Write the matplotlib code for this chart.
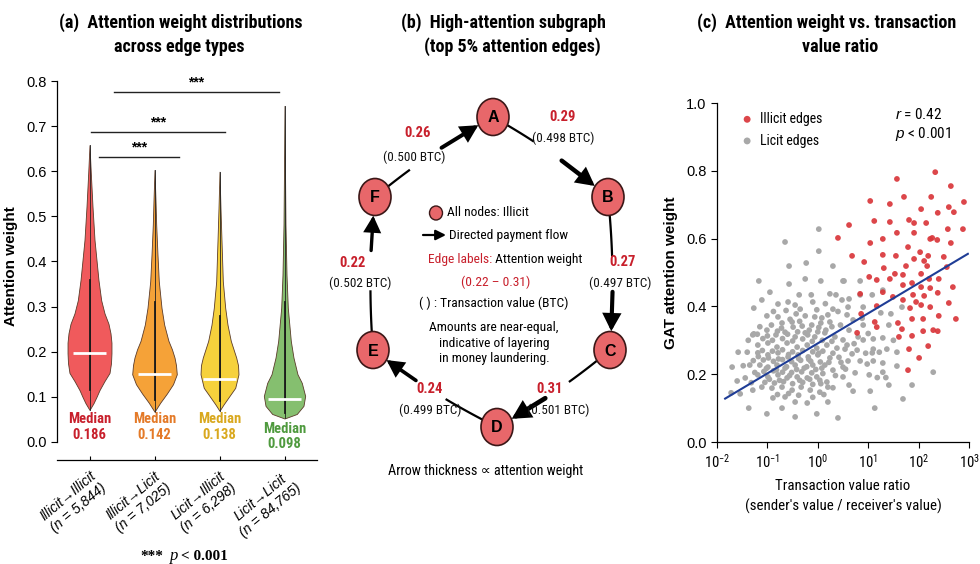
import numpy as np
import matplotlib
matplotlib.use("Agg")
import matplotlib.pyplot as plt
from matplotlib.patches import Ellipse, FancyArrowPatch
from matplotlib.ticker import NullLocator, LogLocator

NARROW = ["Roboto Condensed", "Lato", "DejaVu Sans"]
SANS = ["Liberation Sans", "DejaVu Sans"]
SERIF = ["Liberation Serif", "DejaVu Serif"]
plt.rcParams.update({"font.family": NARROW, "mathtext.fontset": "custom",
                     "mathtext.rm": "Liberation Sans", "mathtext.it": "Liberation Sans:italic",
                     "mathtext.bf": "Liberation Sans:bold", "axes.linewidth": 0.9})

# ---------------- panel (a) data ----------------
edge_types = ["Illicit→Illicit", "Illicit→Licit", "Licit→Illicit", "Licit→Licit"]
edge_counts = ["5,844", "7,025", "6,298", "84,765"]
median_labels = [0.186, 0.142, 0.138, 0.098]
median_lines = [0.198, 0.151, 0.139, 0.095]
box_lo = [0.115, 0.093, 0.090, 0.065]
box_hi = [0.360, 0.310, 0.280, 0.310]
# violin outlines: attention level and half-width (category units)
viol_y = [
    [0.071, 0.086, 0.100, 0.115, 0.135, 0.153, 0.175, 0.197, 0.220, 0.241, 0.262, 0.285, 0.314, 0.359, 0.410, 0.448, 0.522, 0.596, 0.658],
    [0.067, 0.087, 0.107, 0.128, 0.150, 0.170, 0.187, 0.205, 0.224, 0.260, 0.297, 0.356, 0.415, 0.482, 0.537, 0.603],
    [0.069, 0.083, 0.102, 0.120, 0.150, 0.170, 0.187, 0.224, 0.260, 0.297, 0.356, 0.445, 0.519, 0.599],
    [0.052, 0.062, 0.080, 0.102, 0.131, 0.150, 0.187, 0.224, 0.297, 0.370, 0.482, 0.600, 0.745],
]
viol_w = [
    [0, .062, .108, .154, .231, .308, .331, .338, .338, .323, .292, .231, .180, .138, .103, .077, .046, .020, 0],
    [0, .088, .189, .285, .343, .331, .308, .269, .215, .149, .108, .066, .046, .026, .015, 0],
    [0, .062, .154, .242, .292, .285, .257, .174, .123, .088, .051, .031, .015, 0],
    [0, .189, .292, .318, .266, .200, .138, .097, .051, .031, .015, .008, 0],
]
sig_bars = [(0.15, 1.38, 0.632), (0.02, 2.08, 0.687), (0.37, 2.92, 0.776)]
fill_cols = ["#f05a5c", "#f5a238", "#f6d13c", "#85bf6f"]
text_cols = ["#c8202c", "#e47a28", "#d9a81e", "#4f9a3e"]

# ---------------- panel (b) data ----------------
edges = [("F", "A"), ("A", "B"), ("B", "C"), ("C", "D"), ("D", "E"), ("E", "F")]
edge_att = [0.26, 0.29, 0.27, 0.31, 0.24, 0.22]
edge_btc = [0.500, 0.498, 0.497, 0.501, 0.499, 0.502]

# ---------------- panel (c) data: log10(ratio), attention ----------------
licit_lx = [0.02, -0.65, 0.02, -0.57, -0.23, 0.30, -1.17, -0.57, -0.25, 0.06, 0.50, -0.95, -0.37, -0.13, 0.24, 0.36, -1.11,
            0.52, 0.84, 0.62, 1.08, 1.29, 0.84,
            0.60, 0.90, 1.25, 1.45, 1.67, 0.90, 1.41, 0.50, 0.58, 0.80, 0.90, 1.10, 1.29, 0.54, 0.78, 1.10, 1.08, 1.37, 1.57,
            0.60, 0.84, 1.10, 1.29, 1.57, 0.50, 0.74, 1.02, 1.29, 2.29, 1.41, 1.87, 0.70, 1.04, 1.69, 1.13,
            -0.79, -0.59, -0.45, -0.10, -1.27, -1.01, -0.79, -0.43, -0.25, -0.06, 0.08, 0.20, -0.71, -0.51, -0.49, -0.31,
            -0.12, 0.06, 0.24, -1.27, -1.01, -0.83, -0.65, -0.45, -0.25, -0.06, 0.14, 0.34, -1.40, -1.19, -0.99, -0.81,
            -0.61, -0.41, -0.21, -0.02, 0.18, 0.38, -1.19, -0.99, -0.79, -0.59, -0.39, -0.19, 0.00, 0.24, -1.70, -1.35,
            -1.15, -0.99, -0.81, -0.65, -0.45, -0.27, -0.10, 0.08, 0.30, 0.50, -1.44, -1.19, -0.99, -0.79, -0.61, -0.41,
            -0.21, -0.02, 0.18, -1.54, -1.29, -1.11, -0.91, -0.71, -0.51, -0.33, -0.15, 0.04, 0.20, -0.89, -0.65, -0.45,
            -0.21, 0.20, -1.37, -1.01, -0.71, -0.45, -0.02, 0.40, -1.72, -1.58, -1.29, 0.48,
            -1.09, -0.90, -0.70, -0.50, -0.30, -0.11, 0.09, 0.28, -1.10, -0.90, -0.70, -0.50, -0.30, -0.10, 0.10, 0.30,
            -1.28, -1.08, -0.88, -0.70, -0.52, -0.34, -0.14, 0.05, 0.22, -1.25, -1.07, -0.88, -0.70, -0.52, -0.32, -0.12,
            0.10, 0.35, -1.05, -0.86, -0.68, -0.50, -0.30, -0.10, 0.06, -1.15, -0.92, -0.72, -0.55, -0.36, -0.17, 0.02,
            0.28, -0.88, -0.63, -0.35, -0.02, 0.30, 0.15, -0.80, -0.58, -0.38, -0.10, 0.12, 0.42, 0.45, 0.40, 0.62, 0.68,
            0.55, 0.95, 0.98, 1.22, 1.18, 0.62, 0.30,
            -1.20, -1.00, -0.80, -0.60, -0.40, -0.20, 0.00, 0.16, -1.18, -0.98, -0.78, -0.58, -0.38, -0.18, 0.02,
            -1.02, -0.82, -0.62, -0.42, -0.22, -0.04, 0.14, -0.96, -0.76, -0.56, -0.36, -0.16, 0.04, -1.32, -1.48,
            -1.60, -1.38, 0.70, 0.88, 1.00, 0.72, 0.46, 0.58, 1.35, 1.50]
licit_y = [0.628, 0.590, 0.563, 0.519, 0.528, 0.519, 0.475, 0.466, 0.481, 0.475, 0.475, 0.442, 0.434, 0.434, 0.437, 0.434, 0.419,
           0.475, 0.475, 0.422, 0.434, 0.448, 0.434,
           0.398, 0.398, 0.381, 0.378, 0.398, 0.345, 0.345, 0.301, 0.286, 0.310, 0.301, 0.304, 0.307, 0.274, 0.271, 0.274,
           0.263, 0.274, 0.265, 0.239, 0.239, 0.239, 0.233, 0.224, 0.192, 0.204, 0.198, 0.206, 0.206, 0.168, 0.168, 0.150,
           0.150, 0.127, 0.100,
           0.407, 0.413, 0.404, 0.413, 0.395, 0.372, 0.369, 0.378, 0.372, 0.369, 0.366, 0.375, 0.351, 0.354, 0.339, 0.342,
           0.345, 0.351, 0.354, 0.319, 0.330, 0.316, 0.324, 0.310, 0.322, 0.310, 0.322, 0.310, 0.265, 0.286, 0.292, 0.280,
           0.292, 0.280, 0.286, 0.277, 0.286, 0.277, 0.263, 0.257, 0.263, 0.251, 0.257, 0.251, 0.257, 0.248, 0.221, 0.227,
           0.227, 0.221, 0.227, 0.218, 0.227, 0.218, 0.227, 0.218, 0.212, 0.221, 0.189, 0.198, 0.192, 0.198, 0.189, 0.192,
           0.189, 0.192, 0.177, 0.142, 0.153, 0.162, 0.159, 0.162, 0.153, 0.162, 0.153, 0.147, 0.162, 0.130, 0.133, 0.118,
           0.115, 0.118, 0.100, 0.083, 0.100, 0.074, 0.083, 0.071, 0.145, 0.265, 0.316, 0.419,
           0.305, 0.300, 0.305, 0.298, 0.304, 0.297, 0.300, 0.297, 0.270, 0.268, 0.272, 0.266, 0.270, 0.266, 0.268, 0.262,
           0.240, 0.242, 0.238, 0.243, 0.237, 0.241, 0.238, 0.236, 0.235, 0.205, 0.208, 0.210, 0.206, 0.205, 0.207, 0.204,
           0.202, 0.196, 0.176, 0.174, 0.178, 0.172, 0.176, 0.170, 0.172, 0.340, 0.345, 0.336, 0.362, 0.356, 0.330, 0.338,
           0.340, 0.385, 0.388, 0.392, 0.390, 0.392, 0.408, 0.140, 0.143, 0.138, 0.132, 0.140, 0.250, 0.345, 0.385, 0.330,
           0.260, 0.215, 0.262, 0.230, 0.265, 0.190, 0.168, 0.160,
           0.318, 0.313, 0.327, 0.318, 0.325, 0.316, 0.325, 0.330, 0.252, 0.248, 0.245, 0.258, 0.246, 0.244, 0.262,
           0.217, 0.213, 0.222, 0.214, 0.222, 0.214, 0.227, 0.185, 0.182, 0.196, 0.182, 0.185, 0.182, 0.175, 0.225,
           0.180, 0.300, 0.360, 0.365, 0.320, 0.290, 0.235, 0.375, 0.190, 0.300]
illicit_lx = [1.57, 2.33, 1.04, 1.43, 1.71, 2.25, 2.64, 2.90, 2.05, 2.38, 2.60, 2.70, 0.62, 1.12, 1.43, 1.81, 1.91, 2.15,
              1.57, 1.91, 2.58, 2.88, 1.04, 1.29, 2.23, 2.27, 2.37, 2.64, 1.79, 0.68, 0.92, 1.29, 1.55, 2.03, 1.91, 2.11,
              2.19, 2.17, 2.50, 1.31, 1.75, 1.02, 1.17, 1.43, 1.53, 1.69, 2.05, 1.29, 1.69, 1.87, 2.05, 2.21, 2.40, 2.23,
              2.38, 2.68, 1.89, 0.40, 2.56,
              0.84, 1.49, 1.69, 1.95, 2.05, 2.11, 2.60, 1.17, 1.83, 2.23, 0.86, 1.13, 1.17, 1.59, 1.67, 1.87, 2.09, 2.40,
              2.74, 0.78, 1.61, 1.87, 2.09, 2.29, 2.38, 1.81, 2.19, 2.01, 1.79]
illicit_y = [0.776, 0.796, 0.711, 0.702, 0.723, 0.723, 0.755, 0.708, 0.687, 0.676, 0.693, 0.678, 0.640, 0.652, 0.649, 0.655,
             0.646, 0.646, 0.617, 0.617, 0.628, 0.628, 0.587, 0.599, 0.599, 0.602, 0.596, 0.587, 0.575, 0.549, 0.531, 0.552,
             0.549, 0.560, 0.540, 0.534, 0.549, 0.519, 0.546, 0.513, 0.519, 0.487, 0.478, 0.481, 0.496, 0.493, 0.496, 0.442,
             0.463, 0.469, 0.457, 0.481, 0.481, 0.454, 0.440, 0.457, 0.434, 0.602, 0.516,
             0.437, 0.428, 0.419, 0.413, 0.404, 0.431, 0.410, 0.401, 0.395, 0.398, 0.378, 0.354, 0.339, 0.351, 0.333, 0.363,
             0.363, 0.372, 0.363, 0.322, 0.310, 0.313, 0.327, 0.330, 0.327, 0.274, 0.283, 0.248, 0.212]
fit_ratio = [0.0145, 950.0]
fit_att = [0.128, 0.555]
r_value, p_text = 0.42, "0.001"


def fx(px):
    return px / 980.0


def fy(py):
    return 1.0 - py / 564.0


fig = plt.figure(figsize=(9.8, 5.64), dpi=100)

TITLE = dict(fontsize=13, fontweight="bold", ha="center", va="center", family=NARROW)
fig.text(fx(181), fy(23), "(a)  Attention weight distributions", **TITLE)
fig.text(fx(179), fy(47), "across edge types", **TITLE)
fig.text(fx(503), fy(23), "(b)  High-attention subgraph", **TITLE)
fig.text(fx(512), fy(47), "(top 5% attention edges)", **TITLE)
fig.text(fx(827), fy(23), "(c)  Attention weight vs. transaction", **TITLE)
fig.text(fx(840), fy(47), "value ratio", **TITLE)

# ================= panel (a) =================
ax = fig.add_axes([fx(57), fy(460), fx(317) - fx(57), fy(72) - fy(460)])
for i in range(4):
    y = np.array(viol_y[i])
    w = np.array(viol_w[i])
    ax.fill_betweenx(y, i - w, i + w, facecolor=fill_cols[i], edgecolor="#5a3b2a", lw=0.6, zorder=2)
    ax.plot([i, i], [y[0], y[-1]], color="#222222", lw=0.6, zorder=3)
    ax.plot([i, i], [box_lo[i], box_hi[i]], color="#1a1a1a", lw=1.3, zorder=3)
    ax.plot([i - 0.26, i + 0.26], [median_lines[i], median_lines[i]], color="white", lw=2.0,
            solid_capstyle="butt", zorder=4)
    ty = 0.012 if i == 3 else 0.033
    ax.text(i, ty, f"Median\n{median_labels[i]:.3f}", color=text_cols[i], ha="center", va="center",
            fontsize=10.5, fontweight="bold", linespacing=1.15)
for x0, x1, yb in sig_bars:
    ax.plot([x0, x1], [yb, yb], color="#222222", lw=1.0)
    ax.text((x0 + x1) / 2, yb + 0.006, "***", ha="center", va="bottom", fontsize=10, fontweight="bold",
            family=SANS)
ax.set_xlim(-0.5, 3.5)
ax.set_ylim(-0.04, 0.82)
ax.set_yticks(np.arange(0, 0.81, 0.1))
ax.set_yticklabels([f"{v:.1f}" for v in np.arange(0, 0.81, 0.1)], family=SANS, fontsize=10.5)
ax.set_xticks(range(4))
ax.set_xticklabels([f"{t}\n(n = {n})" for t, n in zip(edge_types, edge_counts)], rotation=40,
                   ha="right", va="top", rotation_mode="anchor", multialignment="center",
                   fontstyle="italic", fontsize=10, family=SANS)
ax.tick_params(axis="x", direction="in", length=3, pad=6)
ax.tick_params(axis="y", length=4)
ax.spines[["top", "right"]].set_visible(False)
ax.spines["left"].set_bounds(0, 0.8)
ax.set_ylabel("Attention weight", fontsize=11, fontweight="bold", family=SANS, labelpad=6)
ax.patch.set_alpha(0)

fig.text(fx(163), fy(556), "***", ha="right", va="center", fontsize=11, fontweight="bold", family=SERIF)
fig.text(fx(170), fy(556), "p", ha="left", va="center", fontsize=12, fontstyle="italic", family=SERIF)
fig.text(fx(181), fy(556), "< 0.001", ha="left", va="center", fontsize=11, fontweight="bold", family=SERIF)

# ================= panel (b) =================
axb = fig.add_axes([fx(330), 0, fx(650) - fx(330), 1])
axb.set_xlim(330, 650)
axb.set_ylim(564, 0)
axb.axis("off")

node_xy = {"A": (493, 117), "B": (608, 197), "C": (610, 350), "D": (497, 427), "E": (373, 350), "F": (375, 197)}
NODE_W, NODE_H = 32, 37
CENTER = np.array([492.0, 272.0])
# where the thin tail ends and the thick arrow starts along each edge
tail_end = [0.31, 0.34, 0.39, 0.38, 0.40, 0.39]
head_start = [0.58, 0.58, 0.62, 0.59, 0.64, 0.65]
att_xy = [(418, 133), (563, 117), (623, 262), (550, 389), (430, 389), (353, 263)]
btc_xy = [(414, 157), (563, 138), (620, 283), (558, 410), (430, 410), (360, 283)]


def curve(p0, p2, t, bulge=7.0):
    p0 = np.asarray(p0, float)
    p2 = np.asarray(p2, float)
    mid = (p0 + p2) / 2
    d = p2 - p0
    n = np.array([d[1], -d[0]]) / np.hypot(*d)
    if np.dot(n, mid - CENTER) < 0:
        n = -n
    c = mid + n * bulge
    t = np.atleast_1d(np.asarray(t, float))[:, None]
    return (1 - t) ** 2 * p0 + 2 * (1 - t) * t * c + t ** 2 * p2


def inside(pt, node):
    cx, cy = node_xy[node]
    return ((pt[:, 0] - cx) / (NODE_W / 2)) ** 2 + ((pt[:, 1] - cy) / (NODE_H / 2)) ** 2 <= 1.0


tt = np.linspace(0, 1, 401)
for k, (s, e) in enumerate(edges):
    pts = curve(node_xy[s], node_xy[e], tt)
    t_out = tt[np.argmax(~inside(pts, s))]
    t_in = tt[len(tt) - 1 - np.argmax(~inside(pts[::-1], e))]
    tail = curve(node_xy[s], node_xy[e], np.linspace(t_out, tail_end[k], 30))
    axb.plot(tail[:, 0], tail[:, 1], color="black", lw=1.6, solid_capstyle="butt", zorder=2)
    head = curve(node_xy[s], node_xy[e], [head_start[k], t_in])
    arr = FancyArrowPatch(tuple(head[0]), tuple(head[1]), arrowstyle="-|>,head_length=0.85,head_width=0.45",
                          mutation_scale=10, lw=11 * edge_att[k], color="black", shrinkA=0, shrinkB=0,
                          joinstyle="miter", zorder=2)
    axb.add_patch(arr)
    axb.text(*att_xy[k], f"{edge_att[k]:.2f}", color="#c8202c", fontsize=10.5, fontweight="bold",
             ha="center", va="center")
    axb.text(*btc_xy[k], f"({edge_btc[k]:.3f} BTC)", color="#111111", fontsize=9.5, ha="center", va="center")

for name, (cx, cy) in node_xy.items():
    axb.add_patch(Ellipse((cx, cy), NODE_W, NODE_H, facecolor="#e8676a", edgecolor="#3b1717", lw=1.2, zorder=3))
    axb.text(cx, cy + 1, name, ha="center", va="center", fontsize=11.5, fontweight="bold", family=SANS, zorder=4)

BODY = 9.7
axb.add_patch(Ellipse((436, 213), 13, 14, facecolor="#e8676a", edgecolor="#3b1717", lw=1.0))
axb.text(447, 213, "All nodes: Illicit", ha="left", va="center", fontsize=BODY)
axb.add_patch(FancyArrowPatch((423, 235), (446, 235), arrowstyle="-|>,head_length=0.6,head_width=0.3",
                              mutation_scale=10, lw=1.6, color="black", shrinkA=0, shrinkB=0))
axb.text(449, 235, "Directed payment flow", ha="left", va="center", fontsize=BODY)
lab = axb.text(428, 260, "Edge labels:", ha="left", va="center", fontsize=BODY, color="#c8202c")
axb.annotate(" Attention weight", xy=(1, 0.5), xycoords=lab, ha="left", va="center", fontsize=BODY)
axb.text(496, 282, f"({min(edge_att):.2f} – {max(edge_att):.2f})", ha="center", va="center", fontsize=BODY,
         color="#c8202c")
axb.text(494, 303, "( ) : Transaction value (BTC)", ha="center", va="center", fontsize=BODY)
axb.text(494, 343, "Amounts are near-equal,\nindicative of layering\nin money laundering.", ha="center",
         va="center", fontsize=BODY, linespacing=1.25)
axb.text(486, 471, "Arrow thickness ∝ attention weight", ha="center", va="center", fontsize=10.2)

# ================= panel (c) =================
axc = fig.add_axes([fx(717), fy(442), fx(969) - fx(717), fy(103) - fy(442)])
axc.scatter(10 ** np.array(licit_lx), licit_y, s=17, color="#a8a8a8", edgecolors="none", label="Licit edges",
            zorder=2)
axc.scatter(10 ** np.array(illicit_lx), illicit_y, s=17, color="#d9363a", edgecolors="none", alpha=0.92,
            label="Illicit edges", zorder=3)
axc.plot(fit_ratio, fit_att, color="#1f3d96", lw=1.5, zorder=4)
axc.set_xscale("log")
axc.set_xlim(1e-2, 1e3)
axc.set_ylim(0, 1.0)
axc.xaxis.set_major_locator(LogLocator(base=10, numticks=10))
axc.xaxis.set_minor_locator(NullLocator())
axc.set_yticks(np.arange(0, 1.01, 0.2))
axc.set_yticklabels([f"{v:.1f}" for v in np.arange(0, 1.01, 0.2)], family=SANS, fontsize=10.5)
for tl in axc.get_xticklabels():
    tl.set_fontsize(10.5)
axc.tick_params(length=4)
axc.spines[["top", "right"]].set_visible(False)
axc.set_ylabel("GAT attention weight", fontsize=11, fontweight="bold", family=SANS, labelpad=6)
axc.set_xlabel("Transaction value ratio\n(sender's value / receiver's value)", fontsize=10.7, linespacing=1.5,
               labelpad=6)
h, l = axc.get_legend_handles_labels()
axc.legend(h[::-1], l[::-1], loc="upper left", bbox_to_anchor=(0.07, 0.99), frameon=False, fontsize=10,
           handletextpad=0.4, labelspacing=0.55, borderaxespad=0, handlelength=1.0, markerscale=1.2)
axc.text(0.706, 0.965, f"$r$ = {r_value:.2f}", transform=axc.transAxes, ha="left", va="center", fontsize=11)
axc.text(0.706, 0.909, f"$p$ < {p_text}", transform=axc.transAxes, ha="left", va="center", fontsize=11)

fig.savefig("out.png", dpi=100)
